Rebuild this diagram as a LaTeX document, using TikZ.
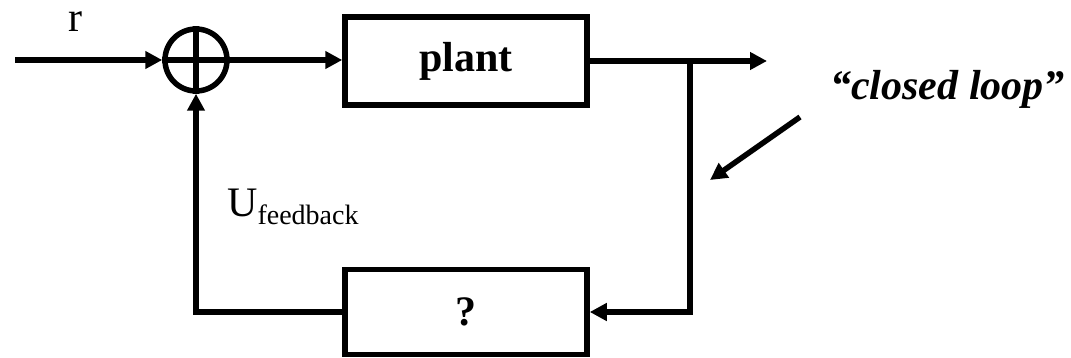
\documentclass[tikz,border=0pt]{standalone}
\usepackage{fontspec}
\setmainfont{Liberation Serif}
\usetikzlibrary{arrows.meta}
\tikzset{
  wire/.style={line width=5.5pt, draw=black, line cap=butt, line join=miter},
  flow/.style={wire, -{Triangle[length=17pt, width=17pt]}},
  block/.style={draw=black, line width=5.5pt, minimum width=242pt, inner sep=0pt,
    font=\fontsize{42}{48}\selectfont\bfseries},
  summer/.style={circle, draw=black, line width=5.5pt, minimum size=62pt, inner sep=0pt},
  sig/.style={font=\fontsize{42}{48}\selectfont, inner sep=0pt},
}

\begin{document}
\begin{tikzpicture}[x=1pt, y=-1pt]
\useasboundingbox (0,0) rectangle (1071,358);
\node[summer] (sum) at (196,60) {};
\draw[wire] (sum.north) -- (sum.south);
\draw[wire] (sum.west) -- (sum.east);
\node[block, minimum height=88pt] (plant) at (466,61) {plant};
\node[block, minimum height=85pt] (fb) at (466,312) {?};
\coordinate (in) at (15,60);
\coordinate (out) at (767,61);
\coordinate (br) at (690,61);
\draw[flow] (in) -- (sum.west);
\draw[flow] (sum.east) -- (sum.east -| plant.west);
\draw[flow] (plant.east) -- (out);
\draw[flow] (br) |- (fb.east);
\draw[flow] (fb.west) -| (sum.south);
\node[sig, anchor=base] (r) at (75,32) {r};
\node[sig, anchor=base west] (ufb) at (227,217)
  {U\raisebox{-8pt}{\fontsize{28}{32}\selectfont feedback}};
\node[sig, anchor=base west, font=\fontsize{42}{48}\selectfont\bfseries\itshape]
  (cl) at (830,100) {“closed loop”};
\coordinate (clstart) at (800,117);
\coordinate (clend) at (710,180);
\draw[flow] (clstart) -- (clend);
\end{tikzpicture}
\end{document}
